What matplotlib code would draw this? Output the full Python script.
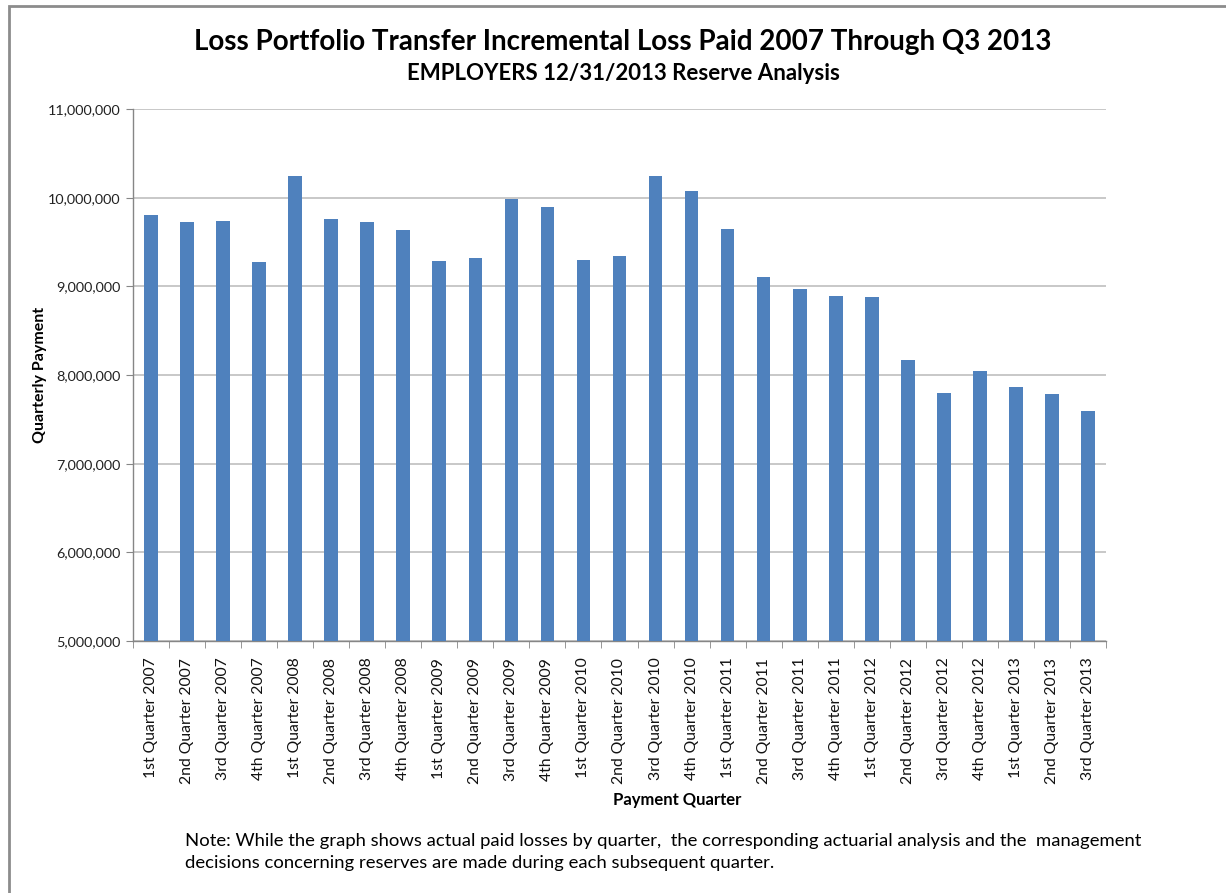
import matplotlib
matplotlib.use("Agg")
import matplotlib.pyplot as plt
from matplotlib.ticker import FuncFormatter, MultipleLocator
from matplotlib.patches import Rectangle

plt.rcParams['font.family'] = ['Lato', 'DejaVu Sans']

quarters = [
    "1st Quarter 2007", "2nd Quarter 2007", "3rd Quarter 2007", "4th Quarter 2007",
    "1st Quarter 2008", "2nd Quarter 2008", "3rd Quarter 2008", "4th Quarter 2008",
    "1st Quarter 2009", "2nd Quarter 2009", "3rd Quarter 2009", "4th Quarter 2009",
    "1st Quarter 2010", "2nd Quarter 2010", "3rd Quarter 2010", "4th Quarter 2010",
    "1st Quarter 2011", "2nd Quarter 2011", "3rd Quarter 2011", "4th Quarter 2011",
    "1st Quarter 2012", "2nd Quarter 2012", "3rd Quarter 2012", "4th Quarter 2012",
    "1st Quarter 2013", "2nd Quarter 2013", "3rd Quarter 2013",
]
payments = [
    9800000, 9720000, 9740000, 9270000,
    10240000, 9760000, 9720000, 9640000,
    9290000, 9320000, 9980000, 9890000,
    9300000, 9340000, 10240000, 10080000,
    9650000, 9100000, 8975000, 8890000,
    8880000, 8170000, 7800000, 8040000,
    7860000, 7790000, 7590000,
]

bar_color = "#4F81BD"
grid_color = "#BFBFBF"
axis_color = "#868686"

W, H = 1226, 893
fig = plt.figure(figsize=(W / 100, H / 100), dpi=100)
ax = fig.add_axes([133 / W, 1 - 641 / H, (1106 - 133) / W, (641 - 109) / H])

x = list(range(len(quarters)))
ax.bar(x, payments, width=0.38, color=bar_color, zorder=3)

ax.set_xlim(-0.5, len(quarters) - 0.5)
ax.set_ylim(5000000, 11000000)
ax.yaxis.set_major_locator(MultipleLocator(1000000))
ax.yaxis.set_major_formatter(FuncFormatter(lambda v, p: f"{int(v):,}"))
ax.grid(axis='y', color=grid_color, linewidth=1.2, zorder=0)

ax.set_xticks(x)
ax.set_xticklabels(quarters, rotation=90, fontsize=11.3, color="#111111")
ax.set_xticks([i - 0.5 for i in range(len(quarters) + 1)], minor=True)
ax.tick_params(axis='x', which='major', length=0, pad=12)
ax.tick_params(axis='x', which='minor', length=5, color=axis_color, direction='out')
ax.tick_params(axis='y', which='major', length=5, color=axis_color, labelsize=10.4,
               labelcolor="#222222", pad=4)

for side in ('top', 'right'):
    ax.spines[side].set_visible(False)
for side in ('left', 'bottom'):
    ax.spines[side].set_color(axis_color)
    ax.spines[side].set_linewidth(1)

# axis titles placed in figure pixel coordinates
fig.text(40 / W, 1 - 375 / H, "Quarterly Payment", rotation=90,
         ha='center', va='center', fontsize=11.5, fontweight='bold')
fig.text(677 / W, 1 - 800 / H, "Payment Quarter",
         ha='center', va='center', fontsize=12, fontweight='bold')

fig.text(623 / W, 1 - 42 / H, "Loss Portfolio Transfer Incremental Loss Paid 2007 Through Q3 2013",
         ha='center', va='center', fontsize=20, fontweight='bold')
fig.text(623 / W, 1 - 74 / H, "EMPLOYERS 12/31/2013 Reserve Analysis",
         ha='center', va='center', fontsize=16, fontweight='bold')

fig.text(185 / W, 1 - 841 / H,
         "Note: While the graph shows actual paid losses by quarter,  the corresponding actuarial analysis and the  management",
         ha='left', va='center', fontsize=13.3)
fig.text(185 / W, 1 - 863 / H,
         "decisions concerning reserves are made during each subsequent quarter.",
         ha='left', va='center', fontsize=13.3)

# chart area frame
fig.patches.append(Rectangle((9 / W, -0.01), 1.02, 1 - 6 / H + 0.01,
                             transform=fig.transFigure, fill=False,
                             edgecolor="#8C8C8C", linewidth=2))

fig.savefig("out.png", dpi=100)
